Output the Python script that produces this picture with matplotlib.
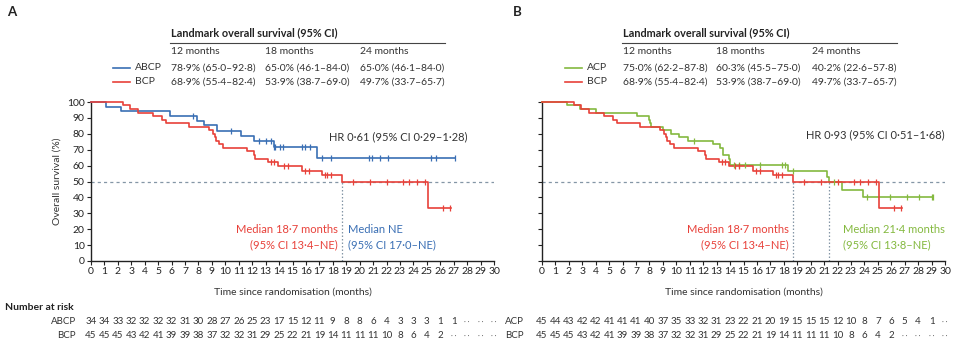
import numpy as np
import matplotlib
matplotlib.use("Agg")
import matplotlib.pyplot as plt
from matplotlib.lines import Line2D
from matplotlib.transforms import blended_transform_factory

plt.rcParams["font.family"] = ["Lato", "DejaVu Sans"]

BLUE = "#3a6fb4"
RED = "#e8413a"
GREEN = "#84b93f"
GREY = "#8496a6"
TXT = "#333333"

# ---- Kaplan-Meier steps (months, % surviving) ----
abcp_t = [0, 1.15, 2.2, 5.9, 7.9, 8.4, 9.4, 11.2, 12.1, 13.6, 16.8]
abcp_s = [100, 97.1, 94.1, 91.2, 88.2, 85.3, 82.0, 78.7, 75.5, 71.5, 64.9]
abcp_end = 27.1
abcp_cens = [7.6, 10.4, 12.5, 13.0, 13.4, 13.6, 13.7, 14.1, 14.3, 15.7, 15.9, 16.3,
             17.2, 17.9, 20.7, 20.9, 21.5, 22.1, 25.3, 25.7, 27.1]

bcp_t = [0, 2.4, 2.9, 3.5, 4.6, 5.3, 5.6, 7.3, 8.8, 9.1, 9.2, 9.3, 9.5, 9.8,
         11.6, 12.1, 12.2, 13.2, 13.9, 15.7, 17.2, 18.7, 25.1]
bcp_s = [100, 97.8, 95.6, 93.3, 91.1, 88.9, 86.7, 84.4, 82.2, 80.0, 77.8, 75.6, 73.3, 71.1,
         68.9, 66.7, 64.4, 62.2, 59.9, 56.9, 53.9, 49.7, 33.1]
bcp_end = 26.8
bcp_cens = [13.4, 13.6, 14.4, 14.7, 15.9, 16.2, 17.4, 17.6, 17.9,
            19.5, 20.8, 22.0, 23.2, 23.7, 24.3, 24.9, 26.2, 26.7]

acp_t = [0, 1.85, 2.85, 4.05, 7.05, 8.0, 8.05, 8.15, 9.0, 9.6, 10.2, 10.9,
         12.75, 13.25, 13.45, 13.5, 13.9, 14.0, 18.3, 21.2, 21.4, 22.3, 23.9]
acp_s = [100, 97.8, 95.6, 93.3, 91.1, 88.9, 86.7, 84.4, 82.2, 80.0, 77.8, 75.6,
         73.3, 71.1, 68.8, 66.6, 64.4, 60.3, 56.6, 53.0, 49.4, 44.8, 40.2]
acp_end = 29.1
acp_cens = [11.3, 14.3, 14.7, 15.1, 16.2, 17.9, 18.1, 18.7, 21.7,
            24.2, 25.9, 27.2, 28.1, 29.0, 29.1]

# ---- landmark table ----
table_cols = ["12 months", "18 months", "24 months"]
abcp_landmark = ["78·9% (65·0–92·8)", "65·0% (46·1–84·0)", "65·0% (46·1–84·0)"]
bcp_landmark = ["68·9% (55·4–82·4)", "53·9% (38·7–69·0)", "49·7% (33·7–65·7)"]
acp_landmark = ["75·0% (62·2–87·8)", "60·3% (45·5–75·0)", "40·2% (22·6–57·8)"]

# ---- number at risk (months 0..30) ----
risk_abcp = ["34", "34", "33", "32", "32", "32", "32", "31", "30", "28", "27", "26", "25", "23",
             "17", "15", "12", "11", "9", "8", "8", "6", "4", "3", "3", "3", "1", "1",
             "··", "··", "··"]
risk_bcp = ["45", "45", "45", "43", "42", "41", "39", "39", "38", "37", "32", "32", "31", "29",
            "25", "22", "21", "19", "14", "11", "11", "11", "10", "8", "6", "4", "2",
            "··", "··", "··", "··"]
risk_acp = ["45", "44", "43", "42", "42", "41", "41", "41", "40", "37", "35", "33", "32", "31",
            "23", "22", "21", "20", "19", "15", "15", "15", "12", "10", "8", "7", "6", "5",
            "4", "1", "··"]
months = np.arange(0, 31)

W, H = 960, 358
fig = plt.figure(figsize=(W / 100, H / 100), dpi=100)


def fx(x):
    return x / W


def fy(y):
    return 1 - y / H


def km(ax, t, s, end, cens, color):
    tt = list(t) + [end]
    ss = list(s) + [s[-1]]
    ax.step(tt, ss, where="post", color=color, lw=1.2, clip_on=False, zorder=3)
    idx = np.searchsorted(t, cens, side="right") - 1
    cy = np.array(s)[idx]
    ax.plot(cens, cy, ls="none", marker="|", ms=4, mew=0.9, color=color,
            clip_on=False, zorder=4)


def style(ax, ylabels=True):
    ax.set_xlim(0, 30)
    ax.set_ylim(0, 100)
    ax.set_xticks(months)
    ax.set_yticks(range(0, 101, 10))
    ax.spines["top"].set_visible(False)
    ax.spines["right"].set_visible(False)
    for sp in ("left", "bottom"):
        ax.spines[sp].set_linewidth(1.0)
        ax.spines[sp].set_color("#222222")
    ax.tick_params(length=3, width=0.8, labelsize=7.5, pad=1.5, colors="#222222")
    if not ylabels:
        ax.set_yticklabels([])
    ax.set_xlabel("Time since randomisation (months)", fontsize=7.5, color=TXT, labelpad=8)
    ax.axhline(50, color=GREY, lw=0.9, ls=(0, (2.5, 2.5)), zorder=1)


def landmark(x0, rows, cols_x):
    # rows: list of (label, colour, values)
    fig.text(fx(x0), fy(33), "Landmark overall survival (95% CI)", fontsize=7.8,
             fontweight="bold", color="#222222", va="center")
    fig.add_artist(Line2D([fx(x0 - 1), fx(x0 + 274)], [fy(42.5), fy(42.5)],
                          color="#444444", lw=0.8))
    for cx, c in zip(cols_x, table_cols):
        fig.text(fx(cx), fy(52), c, fontsize=7.5, color=TXT, va="center")
    for ry, (lab, col, vals) in zip([68, 82], rows):
        fig.add_artist(Line2D([fx(x0 - 58), fx(x0 - 41)], [fy(ry), fy(ry)], color=col, lw=1.2))
        fig.text(fx(x0 - 36), fy(ry), lab, fontsize=7.5, color=TXT, va="center")
        for cx, v in zip(cols_x, vals):
            fig.text(fx(cx), fy(ry), v, fontsize=7.5, color=TXT, va="center")


def at_risk(ax, lab_x, rows):
    tr = blended_transform_factory(ax.transData, fig.transFigure)
    for ry, (lab, vals) in zip([321, 336], rows):
        fig.text(fx(lab_x), fy(ry), lab, fontsize=7, color=TXT, ha="right", va="center")
        for m, v in zip(months, vals):
            if v == "··":
                ax.text(m, fy(ry), "· ·", transform=tr, fontsize=5, color="#666666",
                        ha="center", va="center", clip_on=False)
            else:
                ax.text(m, fy(ry), v, transform=tr, fontsize=7, color=TXT,
                        ha="center", va="center", clip_on=False)


# ---------------- panel A ----------------
axA = fig.add_axes([fx(91), fy(261), 403 / W, 159 / H])
style(axA, True)
axA.set_ylabel("Overall survival (%)", fontsize=7.5, color=TXT, labelpad=4)
axA.plot([18.7, 18.7], [0, 50], color=GREY, lw=0.9, ls=(0, (1.2, 1.6)), zorder=1)
km(axA, abcp_t, abcp_s, abcp_end, abcp_cens, BLUE)
km(axA, bcp_t, bcp_s, bcp_end, bcp_cens, RED)
axA.text(28.0, 78, "HR 0·61 (95% CI 0·29–1·28)", fontsize=8, color=TXT, ha="right", va="center")
axA.text(18.4, 20, "Median 18·7 months", fontsize=8, color=RED, ha="right", va="center")
axA.text(18.4, 10, "(95% CI 13·4–NE)", fontsize=8, color=RED, ha="right", va="center")
axA.text(19.1, 20, "Median NE", fontsize=8, color=BLUE, ha="left", va="center")
axA.text(19.1, 10, "(95% CI 17·0–NE)", fontsize=8, color=BLUE, ha="left", va="center")

fig.text(fx(7), fy(12), "A", fontsize=9.5, fontweight="bold", color="#222222", va="center")
landmark(171, [("ABCP", BLUE, abcp_landmark), ("BCP", RED, bcp_landmark)], [171, 265, 360])

fig.text(fx(5), fy(307), "Number at risk", fontsize=7.5, fontweight="bold", color="#222222", va="center")
at_risk(axA, 76, [("ABCP", risk_abcp), ("BCP", risk_bcp)])

# ---------------- panel B ----------------
axB = fig.add_axes([fx(542), fy(261), 403 / W, 159 / H])
style(axB, False)
axB.plot([18.7, 18.7], [0, 50], color=GREY, lw=0.9, ls=(0, (1.2, 1.6)), zorder=1)
axB.plot([21.4, 21.4], [0, 50], color=GREY, lw=0.9, ls=(0, (1.2, 1.6)), zorder=1)
km(axB, acp_t, acp_s, acp_end, acp_cens, GREEN)
km(axB, bcp_t, bcp_s, bcp_end, bcp_cens, RED)
axB.text(30.0, 79.2, "HR 0·93 (95% CI 0·51–1·68)", fontsize=8, color=TXT, ha="right", va="center")
axB.text(18.4, 20, "Median 18·7 months", fontsize=8, color=RED, ha="right", va="center")
axB.text(18.4, 10, "(95% CI 13·4–NE)", fontsize=8, color=RED, ha="right", va="center")
axB.text(22.4, 20, "Median 21·4 months", fontsize=8, color=GREEN, ha="left", va="center")
axB.text(22.4, 10, "(95% CI 13·8–NE)", fontsize=8, color=GREEN, ha="left", va="center")

fig.text(fx(513), fy(12), "B", fontsize=9.5, fontweight="bold", color="#222222", va="center")
landmark(623, [("ACP", GREEN, acp_landmark), ("BCP", RED, bcp_landmark)], [623, 716, 812])

at_risk(axB, 524, [("ACP", risk_acp), ("BCP", risk_bcp)])

fig.savefig("out.png", dpi=100)
